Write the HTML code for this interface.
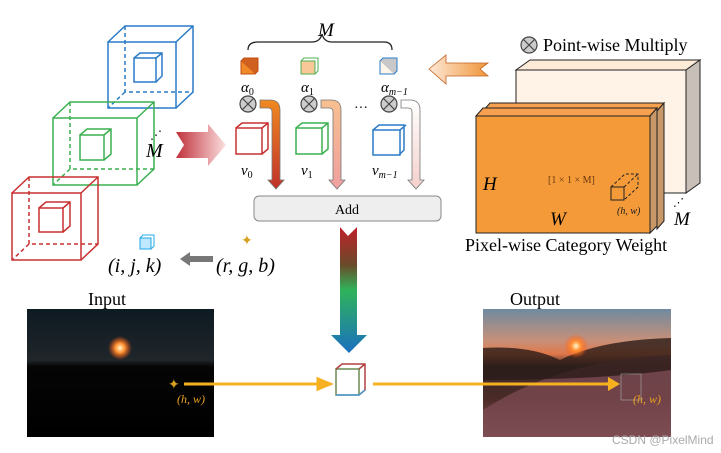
<!DOCTYPE html>
<html><head><style>body{margin:0;background:#fff}svg{display:block}</style></head><body>
<svg width="721" height="453" viewBox="0 0 721 453" xmlns="http://www.w3.org/2000/svg" font-family="Liberation Serif, serif">
<defs>
<linearGradient id="big" x1="0" y1="0" x2="0" y2="1"><stop offset="0" stop-color="#c0202a"/><stop offset="0.3" stop-color="#6a4a2a"/><stop offset="0.5" stop-color="#2fb35a"/><stop offset="1" stop-color="#1a70c0"/></linearGradient>
<linearGradient id="redarr" x1="0" x2="1"><stop offset="0" stop-color="#c0303a"/><stop offset="1" stop-color="#fbe0e0"/></linearGradient>
<linearGradient id="orarr" x1="1" x2="0"><stop offset="0" stop-color="#f0963a"/><stop offset="1" stop-color="#fde8d6"/></linearGradient>
<linearGradient id="d0" x1="0" y1="0" x2="0" y2="1"><stop offset="0" stop-color="#f08a20"/><stop offset="1" stop-color="#c0302a"/></linearGradient>
<linearGradient id="d1" x1="0" y1="0" x2="0" y2="1"><stop offset="0" stop-color="#f8c090"/><stop offset="1" stop-color="#eea0a0"/></linearGradient>
<linearGradient id="d2" x1="0" y1="0" x2="0" y2="1"><stop offset="0" stop-color="#fff"/><stop offset="1" stop-color="#f3d0cc"/></linearGradient>
<linearGradient id="sky1" x1="0" y1="0" x2="0" y2="1"><stop offset="0" stop-color="#0e1a22"/><stop offset="0.4" stop-color="#20262a"/><stop offset="0.45" stop-color="#050505"/><stop offset="1" stop-color="#000"/></linearGradient>
<linearGradient id="sky2" x1="0" y1="0" x2="0" y2="1"><stop offset="0" stop-color="#708aa0"/><stop offset="0.25" stop-color="#c89078"/><stop offset="0.35" stop-color="#e0784a"/><stop offset="0.45" stop-color="#3a2a2a"/><stop offset="0.7" stop-color="#4a2a26"/><stop offset="1" stop-color="#8a5a5a"/></linearGradient>
<radialGradient id="sun"><stop offset="0" stop-color="#fff8d0"/><stop offset="0.4" stop-color="#ff9030"/><stop offset="1" stop-color="#ff5010" stop-opacity="0"/></radialGradient>
</defs>

<!-- big cubes -->
<g fill="none" stroke-width="1.5">
<g stroke="#2a7cc8"><rect x="108" y="42" width="68" height="66"/><path d="M108 42 L125 26 H193 V92 L176 108 M176 42 L193 26"/><path d="M125 26 V92 H193 M125 92 L108 108" stroke-dasharray="4 3"/>
<rect x="134" y="58" width="22" height="24"/><path d="M134 58 l6 -5 h22 v23 l-6 6 M156 58 l6 -5"/></g>
<g stroke="#3cb050"><rect x="53" y="118" width="84" height="67" fill="#fff"/><path d="M53 118 L70 102 H154 V169 L137 185 M137 118 L154 102"/><path d="M70 102 V169 H154 M70 169 L53 185" stroke-dasharray="4 3"/>
<rect x="80" y="135" width="24" height="25"/><path d="M80 135 l7 -6 h24 v25 l-7 6 M104 135 l7 -6"/></g>
<g stroke="#c83030"><rect x="12" y="193" width="69" height="67" fill="#fff"/><path d="M12 193 L29 177 H98 V244 L81 260 M81 193 L98 177"/><path d="M29 177 V244 H98 M29 244 L12 260" stroke-dasharray="4 3"/>
<rect x="39" y="208" width="24" height="24"/><path d="M39 208 l7 -6 h24 v24 l-7 6 M63 208 l7 -6"/></g>
</g>
<text x="146" y="157" font-size="20" font-style="italic">M</text>
<text x="150" y="139" font-size="12">⋰</text>

<path d="M176 132 H208 V124 L226 145 L208 166 V158 H176 L184 145 Z" fill="url(#redarr)"/>

<!-- M brace -->
<path d="M248 50 Q248 42 258 42 H312 Q320 42 322 34 Q324 42 332 42 H384 Q392 42 392 50" fill="none" stroke="#222" stroke-width="1.3"/>
<text x="318" y="36" font-size="19" font-style="italic">M</text>

<!-- alpha cubes -->
<rect x="241" y="61" width="14" height="13" fill="#f08a28" stroke="#c05010"/><path d="M241 61 l3 -3 h14 v13 l-3 3" fill="#d06020" stroke="#c05010"/>
<rect x="301" y="61" width="14" height="13" fill="#f8c898" stroke="#50b050"/><path d="M301 61 l3 -3 h14 v13 l-3 3" fill="none" stroke="#50b050"/>
<rect x="380" y="61" width="14" height="13" fill="#fdf5ea" stroke="#2a7cc8"/><path d="M380 61 l3 -3 h14 v13 l-3 3" fill="#c8c8c8" stroke="#2a7cc8"/>
<g font-size="15" font-style="italic"><text x="241" y="92">α<tspan font-size="10" dy="3" font-style="normal">0</tspan></text>
<text x="301" y="92">α<tspan font-size="10" dy="3" font-style="normal">1</tspan></text>
<text x="381" y="92">α<tspan font-size="10" dy="3">m−1</tspan></text>
<text x="241" y="175">v<tspan font-size="10" dy="3" font-style="normal">0</tspan></text>
<text x="301" y="175">v<tspan font-size="10" dy="3" font-style="normal">1</tspan></text>
<text x="372" y="175">v<tspan font-size="10" dy="3">m−1</tspan></text></g>
<g fill="#ccc" stroke="#444" stroke-width="1.2">
<circle cx="248" cy="104" r="8"/><circle cx="309" cy="104" r="8"/><circle cx="389" cy="104" r="8"/><circle cx="529" cy="45" r="8"/></g>
<g stroke="#444" stroke-width="1.2"><path d="M242 98 l12 12 M254 98 l-12 12 M303 98 l12 12 M315 98 l-12 12 M383 98 l12 12 M395 98 l-12 12 M523 39 l12 12 M535 39 l-12 12"/></g>
<text x="354" y="112" font-size="14">···</text>
<!-- v cubes -->
<g fill="none" stroke-width="1.5">
<g stroke="#c83030"><rect x="236" y="128" width="26" height="26"/><path d="M236 128 l6 -5 h26 v26 l-6 5 M262 128 l6 -5"/></g>
<g stroke="#3cb050"><rect x="296" y="128" width="26" height="26"/><path d="M296 128 l6 -5 h26 v26 l-6 5 M322 128 l6 -5"/></g>
<g stroke="#2a7cc8"><rect x="373" y="130" width="27" height="25"/><path d="M373 130 l6 -5 h25 v25 l-5 5 M400 130 l6 -5"/></g>
</g>
<!-- curved arrows -->
<g stroke="#777" stroke-width="0.8">
<path d="M260 100 H270 Q280 100 280 110 V180 H284 L276 189 L268 180 H272 V112 Q272 108 268 108 H260 Z" fill="url(#d0)"/>
<path d="M321 100 H331 Q341 100 341 110 V180 H345 L337 189 L329 180 H333 V112 Q333 108 329 108 H321 Z" fill="url(#d1)"/>
<path d="M401 100 H410 Q420 100 420 110 V180 H424 L416 189 L408 180 H412 V112 Q412 108 408 108 H401 Z" fill="url(#d2)"/>
</g>
<rect x="254" y="196" width="187" height="25" rx="5" fill="#eee" stroke="#888"/>
<text x="347" y="214" font-size="14" text-anchor="middle">Add</text>

<path d="M340 227 L348 236 L357 227 V335 H367 L349 353 L331 335 H340 Z" fill="url(#big)"/>

<!-- right -->
<text x="543" y="51" font-size="18">Point-wise Multiply</text>
<path d="M429 69 L446 55 V63 H488 L480 69 L488 76 H446 V84 Z" fill="url(#orarr)" stroke="#c06020" stroke-width="0.8"/>
<path d="M516 70 L530 60 H700 L686 70 Z" fill="#fdebd8" stroke="#222"/>
<path d="M686 70 L700 60 V183 L686 193 Z" fill="#c8c0b8" stroke="#222"/>
<rect x="516" y="70" width="170" height="123" fill="#fef3e6" stroke="#222"/>
<path d="M483 111 L490 103 H664 L657 111 Z" fill="#f6a050" stroke="#222"/>
<path d="M657 111 L664 103 V221 L657 229 Z" fill="#c89868" stroke="#222"/>
<path d="M476 116 L483 108 H657 L650 116 Z" fill="#f6a050" stroke="#222"/>
<path d="M650 116 L657 108 V226 L650 233 Z" fill="#c89868" stroke="#222"/>
<rect x="476" y="116" width="174" height="117" fill="#f49a38" stroke="#222"/>
<g fill="none" stroke="#222"><rect x="611" y="187" width="13" height="13"/><path d="M611 187 l14 -13 h13 v13 l-14 13 M624 187 l14 -13" stroke-dasharray="3 2"/></g>
<text x="548" y="183" font-size="10" fill="#6a3a10">[1 × 1 × M]</text>
<text x="617" y="214" font-size="10" font-style="italic" fill="#222">(h, w)</text>
<text x="483" y="190" font-size="19" font-style="italic">H</text>
<text x="550" y="225" font-size="19" font-style="italic">W</text>
<text x="674" y="225" font-size="19" font-style="italic">M</text>
<text x="673" y="206" font-size="11">⋰</text>
<text x="465" y="251" font-size="18">Pixel-wise Category Weight</text>

<!-- ijk -->
<rect x="140" y="238" width="11" height="11" fill="#bde8ff" stroke="#20a8e8"/><path d="M140 238 l3 -3 h11 v11 l-3 3" fill="none" stroke="#20a8e8"/>
<text x="108" y="272" font-size="20" font-style="italic">(i, j, k)</text>
<path d="M213 256 H190 V252 L180 259 L190 266 V262 H213 Z" fill="#777"/>
<text x="216" y="272" font-size="20" font-style="italic">(r, g, b)</text>
<text x="241" y="245" font-size="14" fill="#d8a020">✦</text>

<!-- images -->
<text x="88" y="305" font-size="18">Input</text>
<text x="510" y="305" font-size="18">Output</text>
<rect x="27" y="309" width="187" height="128" fill="url(#sky1)"/>
<circle cx="120" cy="348" r="12" fill="url(#sun)"/>
<rect x="483" y="309" width="188" height="128" fill="url(#sky2)"/>
<path d="M483 410 Q560 360 671 355 V437 H483 Z" fill="#7a4a52" opacity="0.8"/>
<path d="M483 348 Q530 345 560 360 Q600 340 671 338 V370 Q600 380 483 380 Z" fill="#2a1c18" opacity="0.8"/>
<circle cx="576" cy="346" r="12" fill="url(#sun)"/>
<rect x="621" y="374" width="20" height="26" fill="none" stroke="#aaa" stroke-width="0.6"/>
<text x="168" y="389" font-size="14" fill="#d8a020">✦</text>
<text x="603" y="389" font-size="14" fill="#d8a020">✦</text>
<path d="M184 384 H318 V379 L330 384 L318 389 V384" fill="#f6b020" stroke="#f6b020" stroke-width="3"/>
<path d="M373 384 H610" stroke="#f6b020" stroke-width="3"/><path d="M608 377 L620 384 L608 391 Z" fill="#f6b020"/>
<text x="177" y="403" font-size="12" font-style="italic" fill="#e8a020">(h, w)</text>
<text x="633" y="403" font-size="12" font-style="italic" fill="#e8a020">(h, w)</text>
<g fill="none" stroke-width="1.5"><rect x="336" y="369" width="23" height="26" stroke="#6a8a50"/><path d="M336 369 l6 -5 h23 v26 l-6 5 M359 369 l6 -5" stroke="#b04040"/><path d="M336 395 h23 l6 -5" stroke="#4a9ad0"/></g>
<text x="612" y="444" font-size="12" fill="#aaa" font-family="Liberation Sans, sans-serif">CSDN @PixelMind</text>
</svg>
</body></html>
